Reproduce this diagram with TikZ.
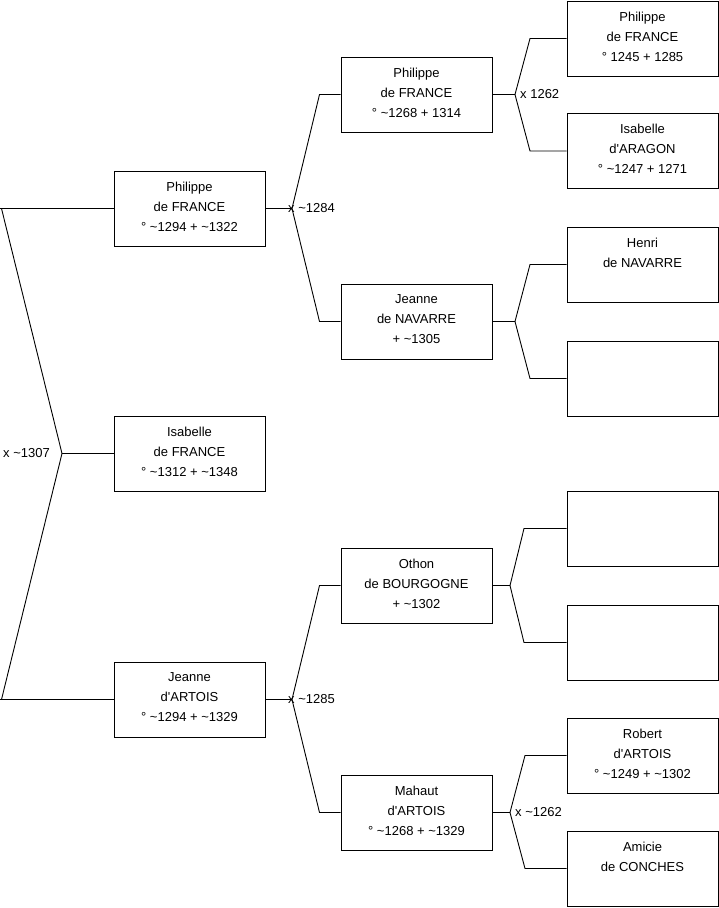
\documentclass[tikz,border=0pt]{standalone}
\usepackage{fontspec}
\setmainfont{Liberation Sans}
\newcommand{\appr}{\textasciitilde}
\newcommand{\apos}{\textquotesingle}
\begin{document}
\begin{tikzpicture}[x=1pt,y=-1pt,
  pbox/.style={draw, line width=0.9pt, minimum width=151pt, minimum height=75pt, inner sep=0pt},
  ptext/.style={inner sep=0pt, align=center, yshift=2pt, font=\fontsize{13}{20}\selectfont},
  link/.style={line width=0.9pt},
  lbl/.style={anchor=west, inner sep=0pt, font=\fontsize{13}{14}\selectfont}]
\useasboundingbox (0,0) rectangle (719,908);
% level 1
\node[pbox, label={[ptext]center:{Philippe\\de FRANCE\\° \appr1294 + \appr1322}}] (a1) at (189.5,208.5) {};
\node[pbox, label={[ptext]center:{Isabelle\\de FRANCE\\° \appr1312 + \appr1348}}] (a2) at (189.5,453.5) {};
\node[pbox, label={[ptext]center:{Jeanne\\d\apos ARTOIS\\° \appr1294 + \appr1329}}] (a3) at (189.5,699.5) {};
% level 2
\node[pbox, label={[ptext]center:{Philippe\\de FRANCE\\° \appr1268 + 1314}}] (b1) at (416.5,94.5) {};
\node[pbox, label={[ptext]center:{Jeanne\\de NAVARRE\\+ \appr1305}}] (b2) at (416.5,321.5) {};
\node[pbox, label={[ptext]center:{Othon\\de BOURGOGNE\\+ \appr1302}}] (b3) at (416.5,585.5) {};
\node[pbox, label={[ptext]center:{Mahaut\\d\apos ARTOIS\\° \appr1268 + \appr1329}}] (b4) at (416.5,812.5) {};
% level 3
\node[pbox, label={[ptext]center:{Philippe\\de FRANCE\\° 1245 + 1285}}] (c1) at (642.5,38.5) {};
\node[pbox, label={[ptext]center:{Isabelle\\d\apos ARAGON\\° \appr1247 + 1271}}] (c2) at (642.5,151) {};
\node[pbox, label={[ptext]center:{Henri\\de NAVARRE\\\mbox{}}}] (c3) at (642.5,264.5) {};
\node[pbox] (c4) at (642.5,378.5) {};
\node[pbox] (c5) at (642.5,528.5) {};
\node[pbox] (c6) at (642.5,642.5) {};
\node[pbox, label={[ptext]center:{Robert\\d\apos ARTOIS\\° \appr1249 + \appr1302}}] (c7) at (642.5,755.5) {};
\node[pbox, label={[ptext]center:{Amicie\\de CONCHES\\\mbox{}}}] (c8) at (642.5,868.5) {};
% junction coordinates
\coordinate (tl) at (1.5,208.5);
\coordinate (bl) at (1.5,699.5);
\coordinate (j0) at (62,453.5);
\coordinate (j1) at (292,208.5);
\coordinate (j1u) at (319.5,94.5);
\coordinate (j1d) at (319.5,321.5);
\coordinate (j2) at (292,699.5);
\coordinate (j2u) at (319.5,585.5);
\coordinate (j2d) at (319.5,812.5);
\coordinate (k1) at (515,94.5);
\coordinate (k1u) at (530,38.5);
\coordinate (k1d) at (530,151);
\coordinate (k2) at (515,321.5);
\coordinate (k2u) at (530,264.5);
\coordinate (k2d) at (530,378.5);
\coordinate (k3) at (510,585.5);
\coordinate (k3u) at (524,528.5);
\coordinate (k3d) at (524,642.5);
\coordinate (k4) at (510,812.5);
\coordinate (k4u) at (525,755.5);
\coordinate (k4d) at (525,868.5);
% connectors
\draw[link] (a1.west) -- (0,208.5);
\draw[link] (a3.west) -- (0,699.5);
\draw[link] (tl) -- (j0) -- (bl);
\draw[link] (j0) -- (a2.west);
\draw[link] (a1.east) -- (j1);
\draw[link] (b1.west) -- (j1u) -- (j1) -- (j1d) -- (b2.west);
\draw[link] (a3.east) -- (j2);
\draw[link] (b3.west) -- (j2u) -- (j2) -- (j2d) -- (b4.west);
\draw[link] (b1.east) -- (k1);
\draw[link] (c1.west) -- (k1u) -- (k1) -- (k1d) -- (c2.west);
\draw[link] (b2.east) -- (k2);
\draw[link] (c3.west) -- (k2u) -- (k2) -- (k2d) -- (c4.west);
\draw[link] (b3.east) -- (k3);
\draw[link] (c5.west) -- (k3u) -- (k3) -- (k3d) -- (c6.west);
\draw[link] (b4.east) -- (k4);
\draw[link] (c7.west) -- (k4u) -- (k4) -- (k4d) -- (c8.west);
% labels
\node[lbl] (l0) at (3,453.5) {x \appr1307};
\node[lbl] (l1) at (288,208.5) {x \appr1284};
\node[lbl] (l2) at (288,699.5) {x \appr1285};
\node[lbl] (l3) at (520,94.5) {x 1262};
\node[lbl] (l4) at (515,812.5) {x \appr1262};
\end{tikzpicture}
\end{document}
